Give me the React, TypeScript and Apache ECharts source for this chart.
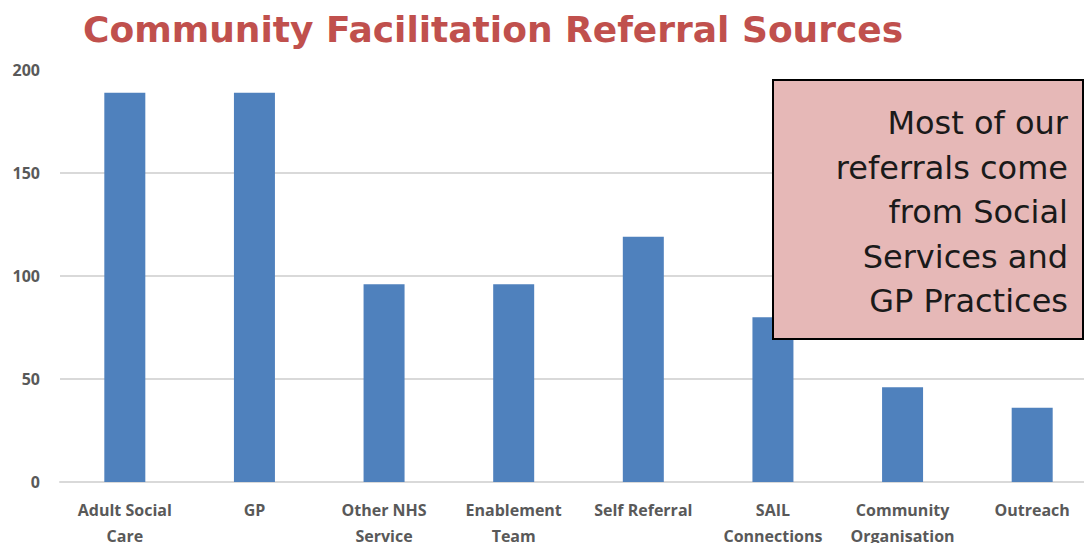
import React, { useEffect, useRef } from "react";
import * as echarts from "echarts";

const categories = [
  "Adult Social\nCare",
  "GP",
  "Other NHS\nService",
  "Enablement\nTeam",
  "Self Referral",
  "SAIL\nConnections",
  "Community\nOrganisation",
  "Outreach",
];
const referrals = [189, 189, 96, 96, 119, 80, 46, 36];
const titleText = "Community Facilitation Referral Sources";
const noteLines = ["Most of our", "referrals come", "from Social", "Services and", "GP Practices"];

export default function App() {
  const ref = useRef<HTMLDivElement>(null);
  useEffect(() => {
    if (!ref.current) return;
    const chart = echarts.init(ref.current, null, { renderer: "svg" });
    chart.setOption({
      animation: false,
      backgroundColor: "#ffffff",
      title: {
        text: titleText,
        left: 78,
        top: 6,
        textStyle: {
          fontFamily: "DejaVu Sans",
          fontWeight: "bold",
          fontSize: 36,
          color: "#c0504d",
        },
      },
      grid: { left: 60, top: 70, width: 1037, height: 412, outerBoundsMode: "none", containLabel: false },
      xAxis: {
        type: "category",
        data: categories,
        axisLine: { show: true, lineStyle: { color: "#d9d9d9", width: 2 } },
        axisTick: { show: false },
        axisLabel: {
          interval: 0,
          margin: 15,
          fontFamily: "Open Sans",
          fontWeight: "bold",
          fontSize: 16,
          lineHeight: 26,
          color: "#595959",
        },
      },
      yAxis: {
        type: "value",
        min: 0,
        max: 200,
        interval: 50,
        axisLine: { show: false },
        axisTick: { show: false },
        splitLine: {
          lineStyle: {
            color: ["#d9d9d9", "#d9d9d9", "#d9d9d9", "#d9d9d9", "transparent"],
            width: 2,
          },
        },
        axisLabel: {
          margin: 20,
          fontFamily: "Open Sans",
          fontWeight: "bold",
          fontSize: 16,
          color: "#595959",
        },
      },
      series: [
        {
          type: "bar",
          data: referrals,
          barWidth: 41,
          itemStyle: { color: "#4f81bd" },
        },
      ],
      graphic: [
        {
          type: "rect",
          shape: { x: 773, y: 80, width: 310, height: 259 },
          style: { fill: "#e6b8b7", stroke: "#000000", lineWidth: 2 },
          z: 100,
        },
        ...noteLines.map((t, i) => ({
          type: "text",
          x: 1068,
          y: 123 + i * 44.5,
          z: 101,
          style: {
            text: t,
            align: "right",
            verticalAlign: "middle",
            fontFamily: "DejaVu Sans",
            fontSize: 32,
            fill: "#1a1a1a",
          },
        })),
      ],
    });
    return () => chart.dispose();
  }, []);
  return <div ref={ref} style={{ width: 1084, height: 543, position: "absolute", left: 0, top: 0 }} />;
}
